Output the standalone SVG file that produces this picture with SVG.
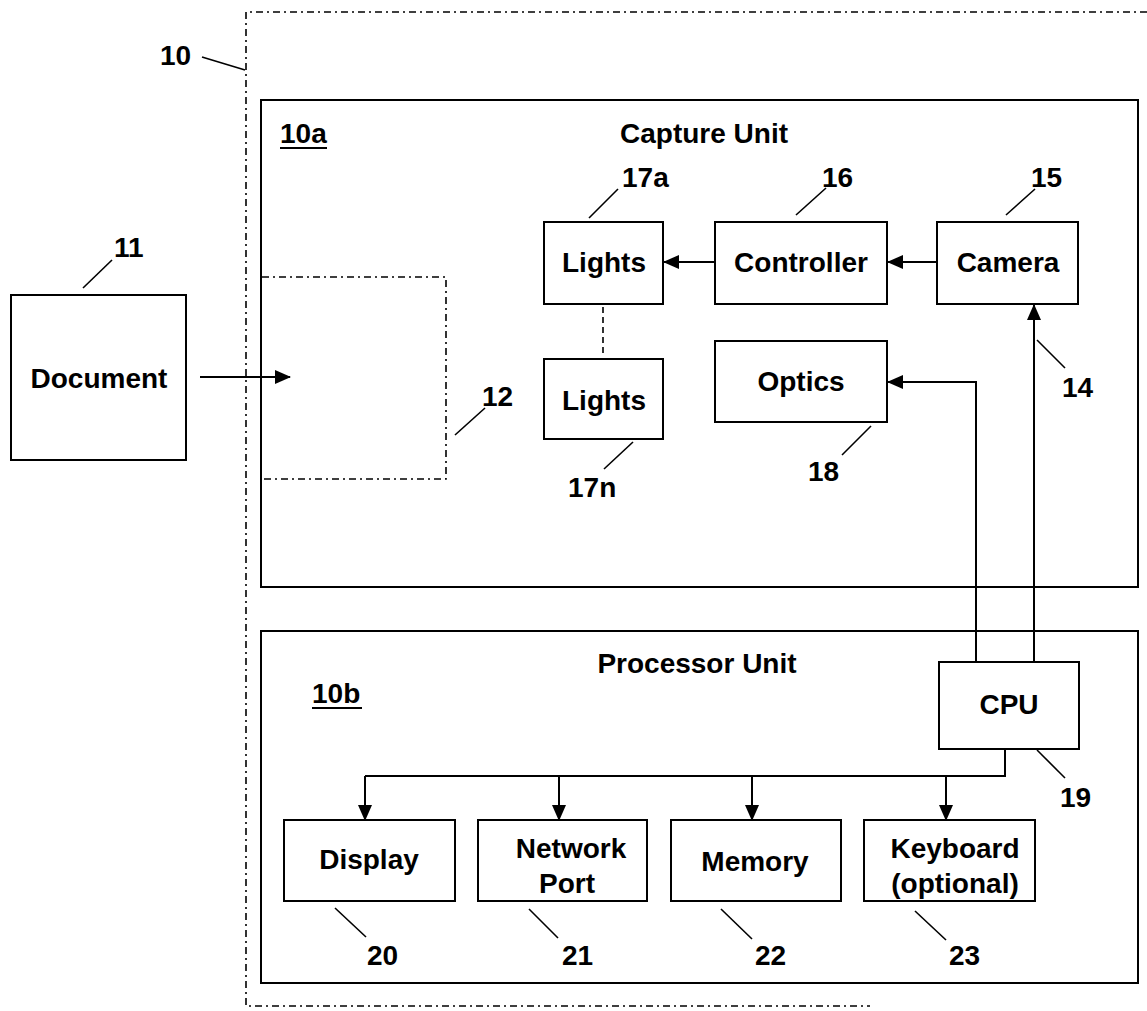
<svg xmlns="http://www.w3.org/2000/svg" width="1147" height="1011" viewBox="0 0 1147 1011">
<defs>
<style>
text{font-family:"Liberation Sans",Arial,sans-serif;font-weight:bold;font-size:28px;fill:#000}
.c{text-anchor:middle}
.box{fill:#fff;stroke:#000;stroke-width:2}
.dd{fill:none;stroke:#000;stroke-width:1.6;stroke-dasharray:7 4 2 4}
.ln{fill:none;stroke:#000;stroke-width:2}
.ld{fill:none;stroke:#000;stroke-width:1.6}
</style>
<marker id="ah" markerUnits="userSpaceOnUse" markerWidth="16" markerHeight="14" refX="15" refY="7" orient="auto">
<path d="M0,0 L16,7 L0,14 Z" fill="#000"/>
</marker>
</defs>
<rect width="1147" height="1011" fill="#fff"/>

<g id="system-10">
<path class="dd" d="M1147 12 H246 V1006 H870"/>
<text x="160" y="65">10</text>
<line class="ld" x1="202" y1="57" x2="245" y2="70"/>
</g>

<g id="capture-unit">
<rect class="box" x="261" y="100" width="877" height="487"/>
<text x="280" y="143">10a</text>
<line class="ln" x1="280" y1="148" x2="327" y2="148"/>
<text class="c" x="704" y="143">Capture Unit</text>
</g>

<g id="area-12">
<path class="dd" d="M262 277 H446 V479 H262"/>
<text x="482" y="406">12</text>
<line class="ld" x1="455" y1="435" x2="485" y2="408"/>
</g>

<g id="document-11">
<rect class="box" x="11" y="295" width="175" height="165"/>
<text class="c" x="99" y="388">Document</text>
<text x="114" y="257">11</text>
<line class="ld" x1="83" y1="288" x2="112" y2="260"/>
</g>

<g id="lights-17a">
<rect class="box" x="544" y="222" width="119" height="82"/>
<text class="c" x="604" y="272">Lights</text>
<text x="622" y="187">17a</text>
<line class="ld" x1="589" y1="218" x2="618" y2="189"/>
</g>

<g id="controller-16">
<rect class="box" x="715" y="222" width="172" height="82"/>
<text class="c" x="801" y="272">Controller</text>
<text x="822" y="187">16</text>
<line class="ld" x1="796" y1="215" x2="826" y2="188"/>
</g>

<g id="camera-15">
<rect class="box" x="937" y="222" width="141" height="82"/>
<text class="c" x="1008" y="272">Camera</text>
<text x="1031" y="187">15</text>
<line class="ld" x1="1006" y1="215" x2="1035" y2="189"/>
</g>

<g id="lights-17n">
<rect class="box" x="544" y="359" width="119" height="80"/>
<text class="c" x="604" y="410">Lights</text>
<text x="568" y="497">17n</text>
<line class="ld" x1="633" y1="442" x2="604" y2="469"/>
</g>

<g id="optics-18">
<rect class="box" x="715" y="341" width="172" height="81"/>
<text class="c" x="801" y="391">Optics</text>
<text x="808" y="481">18</text>
<line class="ld" x1="871" y1="426" x2="842" y2="455"/>
</g>

<g id="processor-unit">
<rect class="box" x="261" y="631" width="877" height="352"/>
<text class="c" x="697" y="673">Processor Unit</text>
<text x="312" y="703">10b</text>
<line class="ln" x1="312" y1="708" x2="362" y2="708"/>
</g>

<g id="cpu-19">
<rect class="box" x="939" y="662" width="140" height="87"/>
<text class="c" x="1009" y="714">CPU</text>
<text x="1060" y="807">19</text>
<line class="ld" x1="1037" y1="750" x2="1065" y2="778"/>
</g>

<g id="display-20">
<rect class="box" x="284" y="820" width="171" height="81"/>
<text class="c" x="369" y="869">Display</text>
<text x="367" y="965">20</text>
<line class="ld" x1="335" y1="908" x2="366" y2="937"/>
</g>

<g id="network-21">
<rect class="box" x="478" y="820" width="169" height="81"/>
<text class="c" x="571" y="858">Network</text>
<text class="c" x="567" y="893">Port</text>
<text x="562" y="965">21</text>
<line class="ld" x1="529" y1="909" x2="558" y2="938"/>
</g>

<g id="memory-22">
<rect class="box" x="671" y="820" width="170" height="81"/>
<text class="c" x="755" y="871">Memory</text>
<text x="755" y="965">22</text>
<line class="ld" x1="721" y1="909" x2="752" y2="939"/>
</g>

<g id="keyboard-23">
<rect class="box" x="864" y="820" width="171" height="81"/>
<text class="c" x="955" y="858">Keyboard</text>
<text class="c" x="955" y="893">(optional)</text>
<text x="949" y="965">23</text>
<line class="ld" x1="915" y1="911" x2="946" y2="940"/>
</g>

<g id="connectors">
<line class="ln" x1="200" y1="377" x2="290" y2="377" marker-end="url(#ah)"/>
<line class="ln" x1="715" y1="262" x2="664" y2="262" marker-end="url(#ah)"/>
<line class="ln" x1="937" y1="262" x2="888" y2="262" marker-end="url(#ah)"/>
<line x1="603" y1="307" x2="603" y2="356" stroke="#000" stroke-width="1.6" stroke-dasharray="6 4"/>
<polyline class="ln" points="976,662 976,382 888,382" marker-end="url(#ah)"/>
<line class="ln" x1="1034" y1="662" x2="1034" y2="305" marker-end="url(#ah)"/>
<text x="1062" y="397">14</text>
<line class="ld" x1="1037" y1="340" x2="1065" y2="368"/>
<polyline class="ln" points="1005,749 1005,776 365,776"/>
<line class="ln" x1="365" y1="776" x2="365" y2="820" marker-end="url(#ah)"/>
<line class="ln" x1="559" y1="776" x2="559" y2="820" marker-end="url(#ah)"/>
<line class="ln" x1="752" y1="776" x2="752" y2="820" marker-end="url(#ah)"/>
<line class="ln" x1="946" y1="776" x2="946" y2="820" marker-end="url(#ah)"/>
</g>
</svg>
